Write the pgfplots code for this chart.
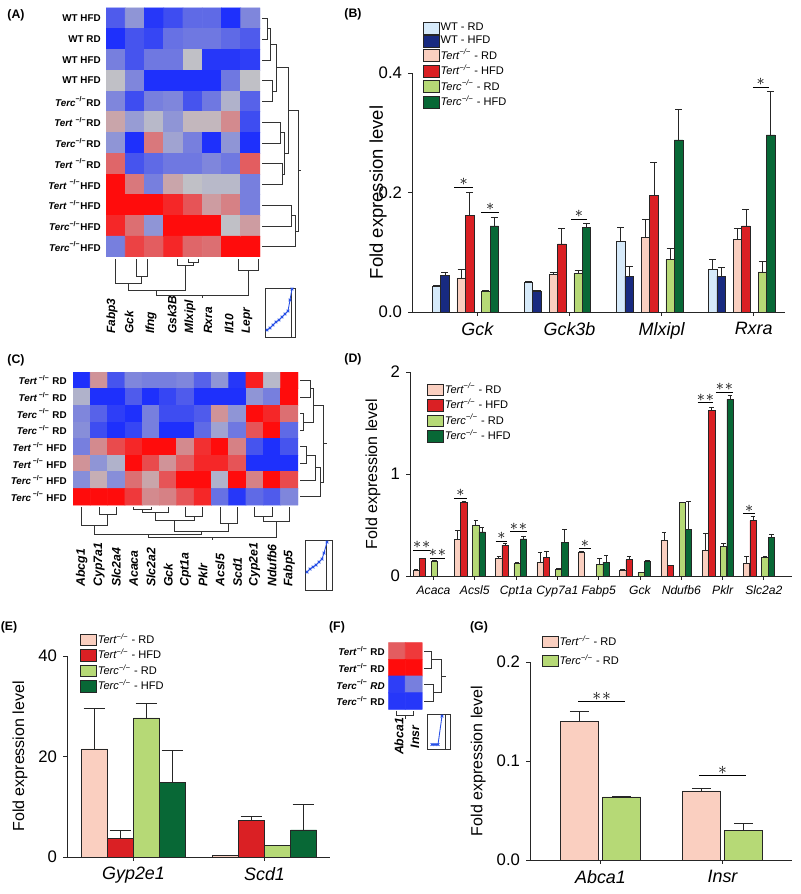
\documentclass[border=0pt]{standalone}
\usepackage{fontspec}
\setmainfont{Liberation Sans}
\usepackage{pgfplots}
\pgfplotsset{compat=1.18}
\usepackage{pgfplotstable}

\definecolor{cwrd}{RGB}{214,234,250}
\definecolor{cwhfd}{RGB}{24,42,128}
\definecolor{ctrd}{RGB}{250,207,192}
\definecolor{cthfd}{RGB}{218,32,36}
\definecolor{ccrd}{RGB}{182,217,118}
\definecolor{cchfd}{RGB}{8,104,54}
\definecolor{keyblue}{RGB}{40,80,230}

\newcommand{\fs}[1]{\fontsize{#1}{#1}\selectfont}
\newcommand{\ko}{\textsuperscript{−/−}}
% dendrogram joins: right side (join at x) and bottom (join at y)
\newcommand{\dg}[5]{\addplot[dend] coordinates {(#1,#2) (#5,#2) (#5,#4) (#3,#4)};}
\newcommand{\dgb}[5]{\addplot[dend] coordinates {(#1,#2) (#1,#5) (#3,#5) (#3,#4)};}

\pgfplotsset{
  colormap={bwr}{rgb255=(30,48,252) rgb255=(192,192,198) rgb255=(255,12,12)},
  hm/.style={scale only axis, hide axis, anchor=north west, enlargelimits=false,
    y dir=reverse, colormap name=bwr, point meta min=-1, point meta max=1},
  bars/.style={scale only axis, anchor=south west, clip=false,
    axis x line*=bottom, axis y line*=left,
    axis line style={-, black!85, line width=0.55pt},
    tick style={black!85, line width=0.55pt}, tick align=outside, major tick length=2.2pt,
    ymin=0, scaled y ticks=false, tick label style={font=\fs{9.5}},
    /pgf/number format/assume math mode=true,
    ylabel={Fold expression level}, ylabel style={font=\fs{9.1}, anchor=center},
    xticklabel style={font=\fs{10.2}\itshape},
    legend cell align=left,
    legend style={draw=none, fill=none, anchor=north west, inner sep=0pt,
      font=\fs{6.3}, row sep=0pt, nodes={inner sep=0.8pt}}},
  hb/.style={ybar, bar width=#1, draw=black!85, line width=0.35pt,
    legend image code/.code={\draw[##1, draw=black!85, line width=0.35pt] (0pt,-3.3pt) rectangle (9pt,3.3pt);}},
  errb/.style={forget plot, draw=none, no markers,
    error bars/y dir=plus, error bars/y explicit,
    error bars/error bar style={draw=black!85, solid, line width=0.4pt},
    error bars/error mark options={rotate=90, draw=black!85, solid, line width=0.4pt, mark size=#1}},
  dend/.style={black!80, line width=0.45pt, forget plot},
  sig/.style={black, line width=0.5pt, forget plot},
}
\tikzset{st/.style={anchor=base, inner sep=0pt, yshift=0.8pt}}

\pgfplotstableread{
x a ae b be c ce d de e ee f fe
0 0.043 0.001 0.0615 0.0055 0.057 0.014 0.162 0.038 0.035 0.001 0.144 0.014
1 0.050 0.001 0.035 0.002 0.063 0.004 0.114 0.026 0.065 0.005 0.1415 0.0065
2 0.1175 0.024 0.060 0.017 0.125 0.030 0.195 0.056 0.088 0.018 0.288 0.052
3 0.071 0.017 0.060 0.014 0.122 0.018 0.144 0.028 0.067 0.017 0.2965 0.0725
}\tabB

\pgfplotstableread{
x a ae b be c ce d de
0 0.052 0.013 0.169 0.006 0.143 0.013 nan 0
1 0.357 0.091 0.718 0.016 0.497 0.048 0.432 0.048
2 0.172 0.023 0.302 0.016 0.123 0.010 0.364 0.029
3 0.130 0.097 0.182 0.055 0.068 0.007 0.331 0.124
4 0.234 0.003 nan 0 0.114 0.055 0.133 0.065
5 0.055 0.013 0.159 0.036 0.032 0.007 0.143 0.013
6 0.351 0.074 0.100 0 0.718 0.006 0.458 0.273
7 0.253 0.163 1.627 0.029 0.292 0.026 1.731 0.038
8 0.123 0.065 0.542 0.042 0.185 0.007 0.377 0.032
}\tabD

\pgfplotstableread{
x a ae b be c ce d de
0 21.5 8.0 3.7 1.6 27.7 2.9 14.9 6.4
1 0.33 0 7.3 0.8 2.3 0 5.4 5.0
}\tabE

\pgfplotstableread{
x a ae b be
0 0.140 0.010 0.0638 0.0006
1 0.0698 0.0023 0.0302 0.0067
}\tabG

\begin{document}
\begin{tikzpicture}

% ---------- canvas in pixel units: labels, dendrograms, colour keys
\begin{axis}[scale only axis, hide axis, clip=false, at={(0,0)}, anchor=north west,
  width=160mm, height=178.8mm, xmin=0, xmax=800, ymin=0, ymax=894, y dir=reverse]
\node[font=\fs{7}\bfseries] at (axis cs:16,15) {(A)};
\node[font=\fs{7}\bfseries] at (axis cs:353,14) {(B)};
\node[font=\fs{7}\bfseries] at (axis cs:16,360) {(C)};
\node[font=\fs{7}\bfseries] at (axis cs:353,359) {(D)};
\node[font=\fs{7}\bfseries] at (axis cs:9,627) {(E)};
\node[font=\fs{7}\bfseries] at (axis cs:337,627) {(F)};
\node[font=\fs{7}\bfseries] at (axis cs:479,627) {(G)};

% A row labels
\node[anchor=east, inner sep=0pt, font=\fs{5.6}\bfseries] at (axis cs:101,18.4) {WT HFD};
\node[anchor=east, inner sep=0pt, font=\fs{5.6}\bfseries] at (axis cs:101,39.1) {WT RD};
\node[anchor=east, inner sep=0pt, font=\fs{5.6}\bfseries] at (axis cs:101,59.9) {WT HFD};
\node[anchor=east, inner sep=0pt, font=\fs{5.6}\bfseries] at (axis cs:101,80.6) {WT HFD};
\node[anchor=east, inner sep=0pt, font=\fs{5.6}\bfseries] at (axis cs:101,101.4) {\textit{Terc}\ko RD};
\node[anchor=east, inner sep=0pt, font=\fs{5.6}\bfseries] at (axis cs:101,122.1) {\textit{Tert} \ko RD};
\node[anchor=east, inner sep=0pt, font=\fs{5.6}\bfseries] at (axis cs:101,142.9) {\textit{Terc}\ko RD};
\node[anchor=east, inner sep=0pt, font=\fs{5.6}\bfseries] at (axis cs:101,163.6) {\textit{Tert} \ko RD};
\node[anchor=east, inner sep=0pt, font=\fs{5.6}\bfseries] at (axis cs:101,184.4) {\textit{Tert} \ko HFD};
\node[anchor=east, inner sep=0pt, font=\fs{5.6}\bfseries] at (axis cs:101,205.1) {\textit{Tert} \ko HFD};
\node[anchor=east, inner sep=0pt, font=\fs{5.6}\bfseries] at (axis cs:101,225.9) {\textit{Terc}\ko HFD};
\node[anchor=east, inner sep=0pt, font=\fs{5.6}\bfseries] at (axis cs:101,246.6) {\textit{Terc}\ko HFD};
% A column labels
\node[rotate=90, anchor=west, inner sep=0pt, font=\fs{6.8}\bfseries\itshape] at (axis cs:112,334) {Fabp3};
\node[rotate=90, anchor=west, inner sep=0pt, font=\fs{6.8}\bfseries\itshape] at (axis cs:129,334) {Gck};
\node[rotate=90, anchor=west, inner sep=0pt, font=\fs{6.8}\bfseries\itshape] at (axis cs:151,334) {Ifng};
\node[rotate=90, anchor=west, inner sep=0pt, font=\fs{6.8}\bfseries\itshape] at (axis cs:172,334) {Gsk3B};
\node[rotate=90, anchor=west, inner sep=0pt, font=\fs{6.8}\bfseries\itshape] at (axis cs:190,334) {Mlxipl};
\node[rotate=90, anchor=west, inner sep=0pt, font=\fs{6.8}\bfseries\itshape] at (axis cs:208,334) {Rxra};
\node[rotate=90, anchor=west, inner sep=0pt, font=\fs{6.8}\bfseries\itshape] at (axis cs:229,334) {Il10};
\node[rotate=90, anchor=west, inner sep=0pt, font=\fs{6.8}\bfseries\itshape] at (axis cs:247,334) {Lepr};
% A dendrograms
\dg{262}{18.4}{262}{39.1}{267}
\dg{267}{28.75}{262}{59.9}{270}
\dg{262}{80.6}{262}{101.4}{272}
\dg{270}{44.3}{272}{91}{276}
\dg{262}{122.1}{262}{142.9}{280}
\dg{262}{163.6}{262}{184.4}{282}
\dg{280}{132.5}{282}{174}{284.5}
\dg{276}{67.65}{284.5}{153.25}{288.5}
\dg{262}{205.1}{262}{225.9}{291}
\dg{291}{215.5}{262}{246.6}{295}
\dg{288.5}{110.45}{295}{231}{298}
\addplot[dend] coordinates {(298,170.7) (301,170.7)};
\dgb{136}{259}{147}{259}{276}
\dgb{115}{259}{141.5}{276}{283}
\dgb{188}{259}{198}{259}{262}
\dgb{177}{259}{193}{262}{265}
\dgb{128.25}{283}{185}{265}{290}
\dgb{238}{259}{258}{259}{270}
\dgb{156.6}{290}{248}{270}{295}
\addplot[dend] coordinates {(202.3,295) (202.3,298)};
% A colour key
\addplot[dend, line width=0.5pt] coordinates {(265,288) (295,288) (295,337) (265,337) (265,288)};
\addplot[dend] coordinates {(291,288) (291,337)};
\addplot[keyblue, mark=x, mark size=1.1pt, line width=0.5pt, forget plot] coordinates {(267,330) (270,328) (273,325) (276,322) (279,320) (282,317) (285,314) (288,311) (290,300) (292,289)};

% C row labels
\node[anchor=east, inner sep=0pt, font=\fs{5.6}\bfseries] at (axis cs:67,380.3) {\textit{Tert}\,\ko{} RD};
\node[anchor=east, inner sep=0pt, font=\fs{5.6}\bfseries] at (axis cs:67,397) {\textit{Tert}\,\ko{} RD};
\node[anchor=east, inner sep=0pt, font=\fs{5.6}\bfseries] at (axis cs:67,413.6) {\textit{Terc}\,\ko{} RD};
\node[anchor=east, inner sep=0pt, font=\fs{5.6}\bfseries] at (axis cs:67,430.2) {\textit{Terc}\,\ko{} RD};
\node[anchor=east, inner sep=0pt, font=\fs{5.6}\bfseries] at (axis cs:67,446.8) {\textit{Tert}\,\ko{} HFD};
\node[anchor=east, inner sep=0pt, font=\fs{5.6}\bfseries] at (axis cs:67,463.4) {\textit{Tert}\,\ko{} HFD};
\node[anchor=east, inner sep=0pt, font=\fs{5.6}\bfseries] at (axis cs:67,480.1) {\textit{Terc}\,\ko{} HFD};
\node[anchor=east, inner sep=0pt, font=\fs{5.6}\bfseries] at (axis cs:67,496.7) {\textit{Terc}\,\ko{} HFD};
% C column labels
\node[rotate=90, anchor=west, inner sep=0pt, font=\fs{7}\bfseries\itshape] at (axis cs:81.7,587) {Abcg1};
\node[rotate=90, anchor=west, inner sep=0pt, font=\fs{7}\bfseries\itshape] at (axis cs:99,587) {Cyp7a1};
\node[rotate=90, anchor=west, inner sep=0pt, font=\fs{7}\bfseries\itshape] at (axis cs:116.3,587) {Slc2a4};
\node[rotate=90, anchor=west, inner sep=0pt, font=\fs{7}\bfseries\itshape] at (axis cs:133.6,587) {Acaca};
\node[rotate=90, anchor=west, inner sep=0pt, font=\fs{7}\bfseries\itshape] at (axis cs:150.9,587) {Slc2a2};
\node[rotate=90, anchor=west, inner sep=0pt, font=\fs{7}\bfseries\itshape] at (axis cs:168.2,587) {Gck};
\node[rotate=90, anchor=west, inner sep=0pt, font=\fs{7}\bfseries\itshape] at (axis cs:185.5,587) {Cpt1a};
\node[rotate=90, anchor=west, inner sep=0pt, font=\fs{7}\bfseries\itshape] at (axis cs:202.8,587) {Pklr};
\node[rotate=90, anchor=west, inner sep=0pt, font=\fs{7}\bfseries\itshape] at (axis cs:220.1,587) {Acsl5};
\node[rotate=90, anchor=west, inner sep=0pt, font=\fs{7}\bfseries\itshape] at (axis cs:237.4,587) {Scd1};
\node[rotate=90, anchor=west, inner sep=0pt, font=\fs{7}\bfseries\itshape] at (axis cs:254.7,587) {Cyp2e1};
\node[rotate=90, anchor=west, inner sep=0pt, font=\fs{7}\bfseries\itshape] at (axis cs:272,587) {Ndufb6};
\node[rotate=90, anchor=west, inner sep=0pt, font=\fs{7}\bfseries\itshape] at (axis cs:289.3,587) {Fabp5};
% C dendrograms
\dg{300}{380.3}{300}{397}{310}
\dg{300}{413.6}{300}{430.2}{303.5}
\dg{310}{388.65}{303.5}{421.9}{313.5}
\dg{300}{446.8}{300}{463.4}{306.5}
\dg{306.5}{455.1}{300}{480.1}{315}
\dg{315}{467.6}{300}{496.7}{320}
\dg{313.5}{405.3}{320}{482.15}{323.5}
\addplot[dend] coordinates {(323.5,443.7) (327,443.7)};
\dgb{99}{507}{116.3}{507}{514}
\dgb{81.7}{507}{107.65}{514}{525}
\dgb{133.6}{507}{150.9}{507}{509}
\dgb{142.25}{509}{168.2}{507}{512}
\dgb{185.5}{507}{202.8}{507}{516}
\dgb{155.2}{512}{194.15}{516}{520}
\dgb{220.1}{507}{237.4}{507}{523}
\dgb{174.7}{520}{228.75}{523}{531}
\dgb{94.7}{525}{201.7}{531}{534}
\dgb{254.7}{507}{272}{507}{516}
\dgb{263.35}{516}{289.3}{507}{521}
\dgb{148.2}{534}{276.3}{521}{537}
\addplot[dend] coordinates {(212.3,537) (212.3,540)};
% C colour key
\addplot[dend, line width=0.5pt] coordinates {(305,540) (332.7,540) (332.7,590) (305,590) (305,540)};
\addplot[dend] coordinates {(326.7,540) (326.7,590)};
\addplot[keyblue, mark=x, mark size=1.1pt, line width=0.5pt, forget plot] coordinates {(307,572) (310,569) (313,567) (316,565) (319,562) (322,559) (324,553) (327,542)};

% F labels
\node[anchor=east, inner sep=0pt, font=\fs{5.6}\bfseries] at (axis cs:385,651) {\textit{Tert}\ko{} RD};
\node[anchor=east, inner sep=0pt, font=\fs{5.6}\bfseries] at (axis cs:385,668) {\textit{Tert}\ko{} RD};
\node[anchor=east, inner sep=0pt, font=\fs{5.6}\bfseries] at (axis cs:385,684.5) {\textit{Terc}\ko{} \textit{RD}};
\node[anchor=east, inner sep=0pt, font=\fs{5.6}\bfseries] at (axis cs:385,701) {\textit{Terc}\ko{} RD};
\node[rotate=90, anchor=center, inner sep=0pt, font=\fs{7}\bfseries\itshape] at (axis cs:399,736.5) {Abca1};
\node[rotate=90, anchor=center, inner sep=0pt, font=\fs{7}\bfseries\itshape] at (axis cs:415,737) {Insr};
\dg{424}{651}{424}{668}{431.7}
\dg{424}{684.5}{424}{701}{433.3}
\dg{431.7}{659.5}{433.3}{692.75}{441}
\addplot[dend] coordinates {(441,676.1) (446,676.1)};
\dgb{396.8}{710.5}{413.8}{710.5}{715}
\addplot[dend] coordinates {(405.3,715) (405.3,719)};
\addplot[dend, line width=0.5pt] coordinates {(427.3,714) (450.7,714) (450.7,749) (427.3,749) (427.3,714)};
\addplot[dend] coordinates {(445,714) (445,749)};
\addplot[keyblue, mark=x, mark size=1.1pt, line width=0.5pt, forget plot] coordinates {(432,744.5) (435,744.5) (438,744.5) (442,716)};
\end{axis}

% ---------- heatmap A
\begin{axis}[hm, at={(21.2mm,-1.6mm)}, width=30.8mm, height=49.8mm,
  xmin=-0.5, xmax=7.5, ymin=-0.5, ymax=11.5]
\addplot[matrix plot*, mesh/cols=8, point meta=explicit] coordinates {
(0,0)[-0.7] (1,0)[-0.3] (2,0)[-0.95] (3,0)[-0.8] (4,0)[-0.6] (5,0)[-0.6] (6,0)[-1] (7,0)[-0.4]
(0,1)[-1] (1,1)[-0.75] (2,1)[-0.85] (3,1)[-0.55] (4,1)[-0.5] (5,1)[-0.5] (6,1)[-0.6] (7,1)[-0.7]
(0,2)[-0.45] (1,2)[-0.75] (2,2)[-0.5] (3,2)[-0.5] (4,2)[0] (5,2)[-0.95] (6,2)[-0.95] (7,2)[-0.9]
(0,3)[0] (1,3)[-0.4] (2,3)[-1] (3,3)[-1] (4,3)[-1] (5,3)[-1] (6,3)[-0.5] (7,3)[0]
(0,4)[-0.4] (1,4)[-0.8] (2,4)[-0.45] (3,4)[-0.4] (4,4)[-0.75] (5,4)[-0.5] (6,4)[-0.1] (7,4)[-0.65]
(0,5)[0.15] (1,5)[-0.25] (2,5)[-0.05] (3,5)[-0.3] (4,5)[0.05] (5,5)[0.05] (6,5)[0.3] (7,5)[-0.8]
(0,6)[-0.3] (1,6)[-1] (2,6)[0.4] (3,6)[-0.2] (4,6)[-0.45] (5,6)[-1] (6,6)[-0.3] (7,6)[-1]
(0,7)[0.5] (1,7)[-0.75] (2,7)[-0.6] (3,7)[-0.5] (4,7)[-0.5] (5,7)[-0.4] (6,7)[-0.5] (7,7)[0.55]
(0,8)[1] (1,8)[0.4] (2,8)[-0.45] (3,8)[0.15] (4,8)[0] (5,8)[-0.05] (6,8)[-0.05] (7,8)[-0.45]
(0,9)[1] (1,9)[1] (2,9)[1] (3,9)[0.85] (4,9)[0.6] (5,9)[0.2] (6,9)[0.35] (7,9)[-0.45]
(0,10)[0.85] (1,10)[0.45] (2,10)[-0.3] (3,10)[1] (4,10)[1] (5,10)[1] (6,10)[0] (7,10)[0.2]
(0,11)[-0.45] (1,11)[0.7] (2,11)[0.55] (3,11)[0.85] (4,11)[0.5] (5,11)[0.45] (6,11)[1] (7,11)[1]
};
\end{axis}

% ---------- heatmap C
\begin{axis}[hm, at={(14.6mm,-74.4mm)}, width=45mm, height=26.6mm,
  xmin=-0.5, xmax=12.5, ymin=-0.5, ymax=7.5]
\addplot[matrix plot*, mesh/cols=13, point meta=explicit] coordinates {
(0,0)[-1] (1,0)[0.25] (2,0)[-0.75] (3,0)[-0.4] (4,0)[-0.45] (5,0)[-0.45] (6,0)[-0.4] (7,0)[-0.65] (8,0)[-0.3] (9,0)[-0.95] (10,0)[0.9] (11,0)[-0.05] (12,0)[1]
(0,1)[-0.1] (1,1)[-1] (2,1)[-1] (3,1)[-0.7] (4,1)[-1] (5,1)[-0.85] (6,1)[-0.7] (7,1)[-1] (8,1)[-1] (9,1)[-1] (10,1)[-0.3] (11,1)[-0.45] (12,1)[1]
(0,2)[-0.4] (1,2)[-0.65] (2,2)[-0.9] (3,2)[-1] (4,2)[-0.45] (5,2)[-0.8] (6,2)[-0.8] (7,2)[-0.7] (8,2)[0.25] (9,2)[-0.3] (10,2)[1] (11,2)[0.85] (12,2)[0.45]
(0,3)[-0.35] (1,3)[-0.8] (2,3)[-1] (3,3)[-0.85] (4,3)[-0.45] (5,3)[-1] (6,3)[-1] (7,3)[-0.6] (8,3)[-0.2] (9,3)[-0.5] (10,3)[0.6] (11,3)[1] (12,3)[-0.6]
(0,4)[-0.45] (1,4)[0.3] (2,4)[0.65] (3,4)[0.85] (4,4)[1] (5,4)[1] (6,4)[0.3] (7,4)[0.8] (8,4)[1] (9,4)[0.35] (10,4)[-0.75] (11,4)[-1] (12,4)[-0.75]
(0,5)[0.25] (1,5)[-0.3] (2,5)[-0.1] (3,5)[1] (4,5)[0.65] (5,5)[0.25] (6,5)[0.55] (7,5)[0.85] (8,5)[0.85] (9,5)[0.6] (10,5)[-1] (11,5)[-1] (12,5)[-1]
(0,6)[-0.35] (1,6)[0.1] (2,6)[-0.35] (3,6)[0.45] (4,6)[0.15] (5,6)[0.6] (6,6)[1] (7,6)[1] (8,6)[-0.1] (9,6)[1] (10,6)[0.35] (11,6)[1] (12,6)[0.65]
(0,7)[1] (1,7)[1] (2,7)[1] (3,7)[0.75] (4,7)[0.3] (5,7)[0.35] (6,7)[0.6] (7,7)[0.85] (8,7)[-0.55] (9,7)[-0.95] (10,7)[-0.6] (11,7)[-0.7] (12,7)[-0.4]
};
\end{axis}

% ---------- heatmap F
\begin{axis}[hm, at={(77.66mm,-128.54mm)}, width=6.8mm, height=13.32mm,
  xmin=-0.5, xmax=1.5, ymin=-0.5, ymax=3.5]
\addplot[matrix plot*, mesh/cols=2, point meta=explicit] coordinates {
(0,0)[0.55] (1,0)[0.75]
(0,1)[1] (1,1)[1]
(0,2)[-0.9] (1,2)[-0.45]
(0,3)[-0.95] (1,3)[-0.95]
};
\end{axis}

% ---------- B
\begin{axis}[bars, at={(82.4mm,-62.4mm)}, width=74.6mm, height=47.8mm,
  xmin=-0.58, xmax=3.47, ymax=0.4, ytick={0,0.2,0.4},
  yticklabel style={/pgf/number format/.cd, fixed, fixed zerofill, precision=1},
  xtick={0.13,1.13,2.13,3.13}, xticklabels={Gck,Gck3b,Mlxipl,Rxra},
  ylabel style={at={(axis description cs:-0.091,0.5)}, font=\fs{10.5}},
  legend style={at={(0.028,1.216)}}]
\addplot[hb=0.0924, fill=cwrd, bar shift=-0.315] table[x=x, y=a] {\tabB};
\addlegendentry{WT - RD}
\addplot[hb=0.0924, fill=cwhfd, bar shift=-0.223] table[x=x, y=b] {\tabB};
\addlegendentry{WT - HFD}
\addplot[hb=0.0924, fill=ctrd, bar shift=-0.046] table[x=x, y=c] {\tabB};
\addlegendentry{\textit{Tert\ko} - RD}
\addplot[hb=0.0924, fill=cthfd, bar shift=0.046] table[x=x, y=d] {\tabB};
\addlegendentry{\textit{Tert\ko} - HFD}
\addplot[hb=0.0924, fill=ccrd, bar shift=0.223] table[x=x, y=e] {\tabB};
\addlegendentry{\textit{Terc\ko} - RD}
\addplot[hb=0.0924, fill=cchfd, bar shift=0.315] table[x=x, y=f] {\tabB};
\addlegendentry{\textit{Terc\ko} - HFD}
\addplot[errb=2pt] table[x expr=\thisrow{x}-0.315, y=a, y error=ae] {\tabB};
\addplot[errb=2pt] table[x expr=\thisrow{x}-0.223, y=b, y error=be] {\tabB};
\addplot[errb=2pt] table[x expr=\thisrow{x}-0.046, y=c, y error=ce] {\tabB};
\addplot[errb=2pt] table[x expr=\thisrow{x}+0.046, y=d, y error=de] {\tabB};
\addplot[errb=2pt] table[x expr=\thisrow{x}+0.223, y=e, y error=ee] {\tabB};
\addplot[errb=2pt] table[x expr=\thisrow{x}+0.315, y=f, y error=fe] {\tabB};
\addplot[sig] coordinates {(-0.122,0.209) (0.086,0.209)};
\addplot[sig] coordinates {(0.168,0.167) (0.368,0.167)};
\addplot[sig] coordinates {(1.147,0.155) (1.317,0.155)};
\addplot[sig] coordinates {(3.122,0.376) (3.291,0.376)};
\node[st, font=\fs{9.5}] at (axis cs:-0.018,0.209) {$\ast$};
\node[st, font=\fs{9.5}] at (axis cs:0.268,0.167) {$\ast$};
\node[st, font=\fs{9.5}] at (axis cs:1.232,0.155) {$\ast$};
\node[st, font=\fs{9.5}] at (axis cs:3.207,0.376) {$\ast$};
\end{axis}

% ---------- D
\begin{axis}[bars, at={(82mm,-115.2mm)}, width=76.4mm, height=40.8mm,
  xmin=-0.448, xmax=8.80, ymax=2, ytick={0,1,2},
  xtick={0.12,1.12,2.12,3.12,4.12,5.12,6.12,7.12,8.12},
  xticklabels={Acaca,Acsl5,Cpt1a,Cyp7a1,Fabp5,Gck,Ndufb6,Pklr,Slc2a2},
  xticklabel style={font=\fs{6.9}\itshape},
  ylabel style={at={(axis description cs:-0.097,0.5)}},
  legend style={at={(0.0435,0.953)}}]
\addplot[hb=0.1525, fill=ctrd, bar shift=-0.298] table[x=x, y=a] {\tabD};
\addlegendentry{\textit{Tert\ko} - RD}
\addplot[hb=0.1525, fill=cthfd, bar shift=-0.145] table[x=x, y=b] {\tabD};
\addlegendentry{\textit{Tert\ko} - HFD}
\addplot[hb=0.1525, fill=ccrd, bar shift=0.145] table[x=x, y=c] {\tabD};
\addlegendentry{\textit{Terc\ko} - RD}
\addplot[hb=0.1525, fill=cchfd, bar shift=0.298] table[x=x, y=d] {\tabD};
\addlegendentry{\textit{Terc\ko} - HFD}
\addplot[errb=1.3pt] table[x expr=\thisrow{x}-0.298, y=a, y error=ae] {\tabD};
\addplot[errb=1.3pt] table[x expr=\thisrow{x}-0.145, y=b, y error=be] {\tabD};
\addplot[errb=1.3pt] table[x expr=\thisrow{x}+0.145, y=c, y error=ce] {\tabD};
\addplot[errb=1.3pt] table[x expr=\thisrow{x}+0.298, y=d, y error=de] {\tabD};
\addplot[sig] coordinates {(-0.368,0.253) (0.036,0.253)};
\addplot[sig] coordinates {(0.036,0.175) (0.40,0.175)};
\addplot[sig] coordinates {(0.617,0.763) (0.925,0.763)};
\addplot[sig] coordinates {(1.627,0.341) (1.908,0.341)};
\addplot[sig] coordinates {(1.973,0.432) (2.378,0.432)};
\addplot[sig] coordinates {(3.652,0.269) (3.927,0.269)};
\addplot[sig] coordinates {(6.518,1.698) (6.896,1.698)};
\addplot[sig] coordinates {(6.954,1.80) (7.38,1.80)};
\addplot[sig] coordinates {(7.623,0.61) (7.906,0.61)};
\node[st, font=\fs{9}] at (axis cs:-0.166,0.253) {$\ast\mkern1mu\ast$};
\node[st, font=\fs{9}] at (axis cs:0.218,0.175) {$\ast\mkern1mu\ast$};
\node[st, font=\fs{9}] at (axis cs:0.771,0.763) {$\ast$};
\node[st, font=\fs{9}] at (axis cs:1.768,0.341) {$\ast$};
\node[st, font=\fs{9}] at (axis cs:2.176,0.432) {$\ast\mkern1mu\ast$};
\node[st, font=\fs{9}] at (axis cs:3.79,0.269) {$\ast$};
\node[st, font=\fs{9}] at (axis cs:6.707,1.698) {$\ast\mkern1mu\ast$};
\node[st, font=\fs{9}] at (axis cs:7.167,1.80) {$\ast\mkern1mu\ast$};
\node[st, font=\fs{9}] at (axis cs:7.765,0.61) {$\ast$};
\end{axis}

% ---------- E
\begin{axis}[bars, at={(13.4mm,-171.4mm)}, width=52.6mm, height=40.2mm,
  xmin=-0.508, xmax=1.5, ymax=40, ytick={0,20,40},
  xtick={0,1}, xticklabels={Gyp2e1,Scd1},
  ylabel style={at={(axis description cs:-0.179,0.5)}},
  legend style={at={(0.048,1.121)}}]
\addplot[hb=0.1985, fill=ctrd, bar shift=-0.298] table[x=x, y=a] {\tabE};
\addlegendentry{\textit{Tert\ko} - RD}
\addplot[hb=0.1985, fill=cthfd, bar shift=-0.099] table[x=x, y=b] {\tabE};
\addlegendentry{\textit{Tert\ko} - HFD}
\addplot[hb=0.1985, fill=ccrd, bar shift=0.099] table[x=x, y=c] {\tabE};
\addlegendentry{\textit{Terc\ko} - RD}
\addplot[hb=0.1985, fill=cchfd, bar shift=0.298] table[x=x, y=d] {\tabE};
\addlegendentry{\textit{Terc\ko} - HFD}
\addplot[errb=6.2pt] table[x expr=\thisrow{x}-0.298, y=a, y error=ae] {\tabE};
\addplot[errb=6.2pt] table[x expr=\thisrow{x}-0.099, y=b, y error=be] {\tabE};
\addplot[errb=6.2pt] table[x expr=\thisrow{x}+0.099, y=c, y error=ce] {\tabE};
\addplot[errb=6.2pt] table[x expr=\thisrow{x}+0.298, y=d, y error=de] {\tabE};
\end{axis}

% ---------- G
\begin{axis}[bars, at={(106mm,-172mm)}, width=52.4mm, height=39.6mm,
  xmin=-0.578, xmax=1.57, ymax=0.2, ytick={0,0.1,0.2},
  yticklabel style={/pgf/number format/.cd, fixed, fixed zerofill, precision=1},
  xtick={0,1}, xticklabels={Abca1,Insr},
  ylabel style={at={(axis description cs:-0.198,0.5)}},
  legend style={at={(0.044,1.143)}, row sep=2pt}]
\addplot[hb=0.311, fill=ctrd, bar shift=-0.174] table[x=x, y=a] {\tabG};
\addlegendentry{\textit{Tert\ko} - RD}
\addplot[hb=0.311, fill=ccrd, bar shift=0.174] table[x=x, y=b] {\tabG};
\addlegendentry{\textit{Terc\ko} - RD}
\addplot[errb=5.4pt] table[x expr=\thisrow{x}-0.174, y=a, y error=ae] {\tabG};
\addplot[errb=5.4pt] table[x expr=\thisrow{x}+0.174, y=b, y error=be] {\tabG};
\addplot[sig] coordinates {(-0.182,0.1597) (0.201,0.1597)};
\addplot[sig] coordinates {(0.807,0.0852) (1.19,0.0852)};
\node[st, font=\fs{10}] at (axis cs:0.01,0.1597) {$\ast\mkern1mu\ast$};
\node[st, font=\fs{10}] at (axis cs:1.0,0.0852) {$\ast$};
\end{axis}

\pgfresetboundingbox
\useasboundingbox (0,0) rectangle (160mm,-178.8mm);
\end{tikzpicture}
\end{document}
